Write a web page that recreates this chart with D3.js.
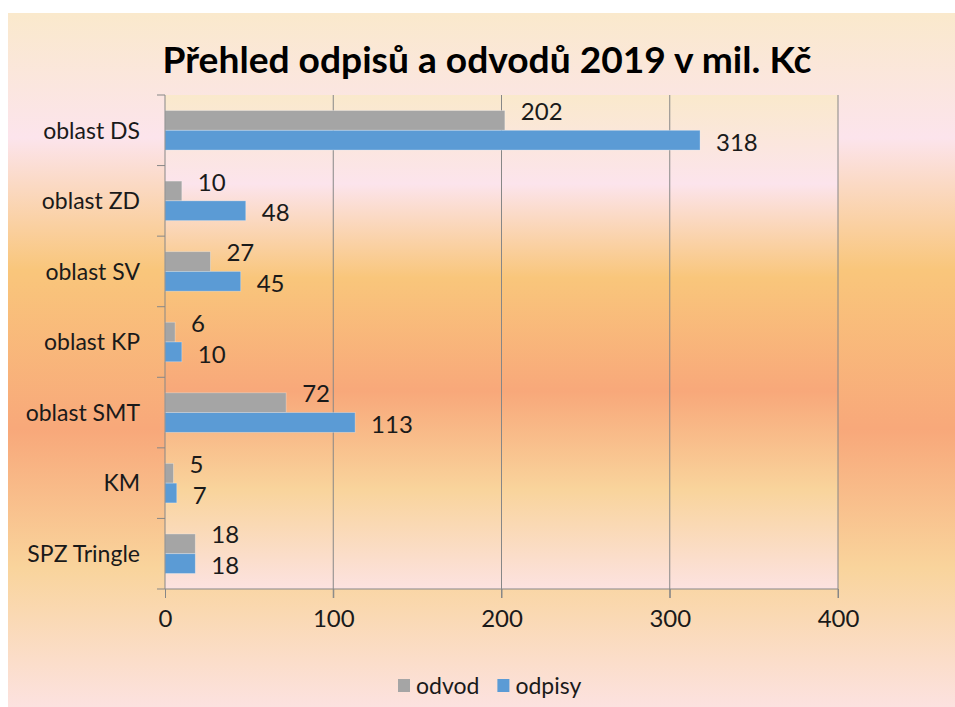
<!DOCTYPE html>
<html>
<head>
<meta charset="utf-8">
<script src="https://cdn.jsdelivr.net/npm/d3@7"></script>
<style>
  body { margin: 0; background: #fff; }
  svg { display: block; font-family: Lato, "Open Sans", sans-serif; }
</style>
</head>
<body>
<svg id="chart" width="955" height="707"></svg>
<script>
// data
const categories = ["oblast DS", "oblast ZD", "oblast SV", "oblast KP", "oblast SMT", "KM", "SPZ Tringle"];
const odvod = [202, 10, 27, 6, 72, 5, 18];
const odpisy = [318, 48, 45, 10, 113, 7, 18];
const seriesNames = ["odvod", "odpisy"];
const xTicks = [0, 100, 200, 300, 400];
const title = "Přehled odpisů a odvodů 2019 v mil. Kč";

const colors = { odvod: "#a5a5a5", odpisy: "#5b9bd5" };
const gridColor = "#878787";

const svg = d3.select("#chart");
const plot = { left: 165, right: 838, top: 95, bottom: 589 };

// background gradients
const defs = svg.append("defs");
const stops = [
    [0, "#fae9cc"],
    [0.18, "#fce4ec"],
    [0.37, "#f9c67b"],
    [0.6, "#f8a87a"],
    [0.8, "#f9d49c"],
    [1, "#fce2e0"]
];
["bgOuter", "bgPlot"].forEach((id) => {
    const g = defs.append("linearGradient").attr("id", id)
        .attr("x1", 0).attr("y1", 0).attr("x2", 0).attr("y2", 1);
    stops.forEach(([o, c]) => g.append("stop").attr("offset", o).attr("stop-color", c));
});

svg.append("rect")
    .attr("x", 8).attr("y", 13)
    .attr("width", 955 - 8).attr("height", 707 - 13)
    .attr("fill", "url(#bgOuter)");

svg.append("rect")
    .attr("x", plot.left).attr("y", plot.top)
    .attr("width", plot.right - plot.left).attr("height", plot.bottom - plot.top)
    .attr("fill", "url(#bgPlot)");

// scales
const x = d3.scaleLinear().domain([0, 400]).range([plot.left, plot.right]);
const y = d3.scaleBand().domain(categories)
    .range([plot.top, plot.bottom])
    .paddingInner(0.44).paddingOuter(0.22);
const ySub = d3.scaleBand().domain(seriesNames).range([0, y.bandwidth()]);

// gridlines
svg.append("g")
    .selectAll("line")
    .data(xTicks.slice(1))
    .join("line")
    .attr("x1", (d) => x(d)).attr("x2", (d) => x(d))
    .attr("y1", plot.top).attr("y2", plot.bottom + 9)
    .attr("stroke", gridColor).attr("stroke-width", 1);

// bars
const rows = categories.map((c, i) => ({ cat: c, odvod: odvod[i], odpisy: odpisy[i] }));
seriesNames.forEach((s) => {
    svg.append("g")
        .selectAll("rect")
        .data(rows)
        .join("rect")
        .attr("x", x(0))
        .attr("y", (d) => y(d.cat) + ySub(s))
        .attr("width", (d) => x(d[s]) - x(0))
        .attr("height", ySub.bandwidth())
        .attr("fill", colors[s])
        .attr("stroke", "rgba(255,255,255,0.35)")
        .attr("stroke-width", 0.8);
});

// value labels
seriesNames.forEach((s) => {
    svg.append("g")
        .selectAll("text")
        .data(rows)
        .join("text")
        .attr("x", (d) => x(d[s]) + 16)
        .attr("y", (d) => y(d.cat) + ySub(s) + ySub.bandwidth() / 2 + (s === "odvod" ? -9 : 2))
        .attr("dy", "0.36em")
        .attr("font-size", 24)
        .attr("fill", "#1a1a1a")
        .text((d) => d[s]);
});

// left axis with ticks at category boundaries
const bandH = (plot.bottom - plot.top) / categories.length;
const bounds = d3.range(categories.length + 1).map((i) => plot.top + i * bandH);
const leftAxis = svg.append("g");
leftAxis.append("line")
    .attr("x1", plot.left).attr("x2", plot.left)
    .attr("y1", plot.top).attr("y2", plot.bottom)
    .attr("stroke", gridColor);
leftAxis.selectAll("line.tick")
    .data(bounds)
    .join("line")
    .attr("class", "tick")
    .attr("x1", plot.left - 8).attr("x2", plot.left)
    .attr("y1", (d) => d).attr("y2", (d) => d)
    .attr("stroke", gridColor);
leftAxis.selectAll("text")
    .data(categories)
    .join("text")
    .attr("x", 140)
    .attr("y", (d) => y(d) + y.bandwidth() / 2)
    .attr("dy", "0.36em")
    .attr("text-anchor", "end")
    .attr("font-size", 23)
    .attr("fill", "#1a1a1a")
    .text((d) => d);

// bottom axis
const bottomAxis = d3.axisBottom(x).tickValues(xTicks).tickSize(9).tickPadding(12);
const bx = svg.append("g")
    .attr("transform", `translate(0, ${plot.bottom})`)
    .call(bottomAxis);
bx.select(".domain").attr("stroke", gridColor).attr("d", `M${plot.left},0H${plot.right}`);
bx.selectAll(".tick line").attr("stroke", gridColor);
bx.selectAll(".tick text")
    .attr("font-family", "Lato, sans-serif")
    .attr("font-size", 24)
    .attr("fill", "#1a1a1a");

// title, sized to the reference width
const titleText = svg.append("text")
    .attr("x", 487)
    .attr("y", 73)
    .attr("text-anchor", "middle")
    .attr("font-weight", "bold")
    .attr("font-size", 36)
    .attr("fill", "#000")
    .text(title);
const tw = titleText.node().getComputedTextLength();
titleText.attr("font-size", Math.min(40, 36 * 649 / tw));

// legend
const legend = svg.append("g").attr("transform", "translate(398, 686)");
let lx = 0;
seriesNames.forEach((s) => {
    const item = legend.append("g").attr("transform", `translate(${lx}, 0)`);
    item.append("rect")
        .attr("x", 0).attr("y", -7)
        .attr("width", 12).attr("height", 13)
        .attr("fill", colors[s]);
    const t = item.append("text")
        .attr("x", 18).attr("y", 0)
        .attr("dy", "0.36em")
        .attr("font-size", 23)
        .attr("fill", "#1a1a1a")
        .text(s);
    lx += 18 + t.node().getComputedTextLength() + 18;
});
</script>
</body>
</html>
